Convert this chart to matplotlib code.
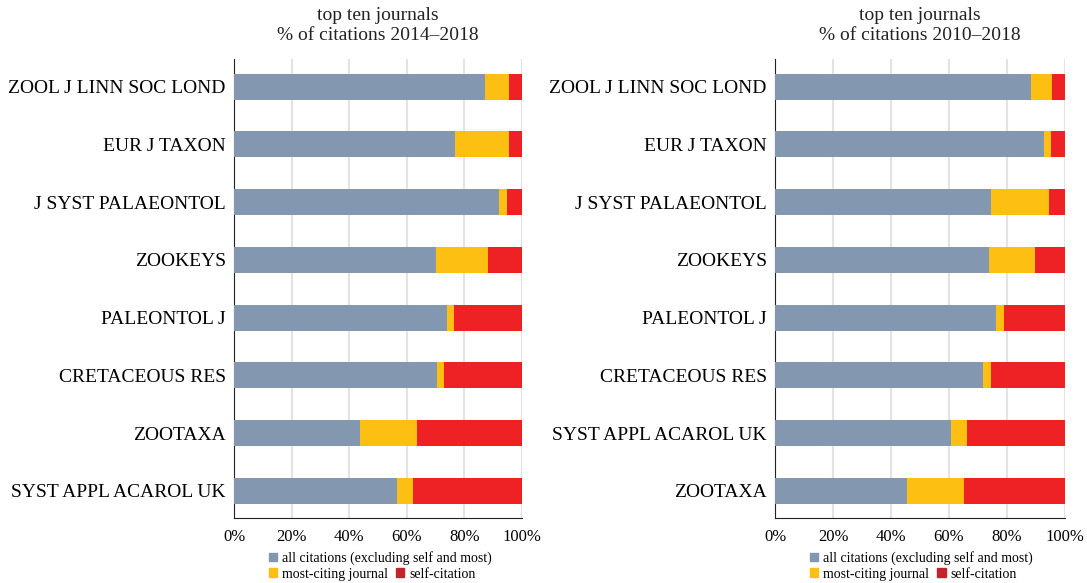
import matplotlib
matplotlib.use('Agg')
from matplotlib import pyplot as plt
from matplotlib.patches import Patch

plt.rcParams['font.family'] = ['Liberation Serif', 'DejaVu Serif']

journals_1418 = ['ZOOL J LINN SOC LOND', 'EUR J TAXON', 'J SYST PALAEONTOL', 'ZOOKEYS',
                 'PALEONTOL J', 'CRETACEOUS RES', 'ZOOTAXA', 'SYST APPL ACAROL UK']
all_1418 = [87.2, 76.7, 92.0, 70.0, 74.0, 70.4, 43.8, 56.5]
most_1418 = [8.2, 18.7, 2.6, 18.3, 2.3, 2.6, 19.6, 5.8]
self_1418 = [4.6, 4.6, 5.4, 11.7, 23.7, 27.0, 36.6, 37.7]

journals_1018 = ['ZOOL J LINN SOC LOND', 'EUR J TAXON', 'J SYST PALAEONTOL', 'ZOOKEYS',
                 'PALEONTOL J', 'CRETACEOUS RES', 'SYST APPL ACAROL UK', 'ZOOTAXA']
all_1018 = [88.2, 92.9, 74.4, 73.8, 76.1, 71.8, 60.7, 45.5]
most_1018 = [7.2, 2.4, 20.1, 16.0, 2.8, 2.6, 5.5, 19.6]
self_1018 = [4.6, 4.7, 5.5, 10.2, 21.1, 25.6, 33.8, 34.9]

titles = ['top ten journals\n% of citations 2014\u20132018',
          'top ten journals\n% of citations 2010\u20132018']

c_all = '#8497b0'
c_most = '#fdbf12'
c_self = '#ee2125'
c_self_leg = '#c4232b'

fig = plt.figure(figsize=(10.87, 5.83), dpi=100)
ax1 = fig.add_axes([0.2153, 0.1115, 0.265, 0.7873])
ax2 = fig.add_axes([0.713, 0.1115, 0.2668, 0.7873])

panels = [(ax1, journals_1418, all_1418, most_1418, self_1418, titles[0]),
          (ax2, journals_1018, all_1018, most_1018, self_1018, titles[1])]

for ax, names, a, m, s, title in panels:
    y = range(len(names))
    left2 = [i + j for i, j in zip(a, m)]
    ax.barh(y, a, height=0.45, color=c_all, zorder=3)
    ax.barh(y, m, left=a, height=0.45, color=c_most, zorder=3)
    ax.barh(y, s, left=left2, height=0.45, color=c_self, zorder=3)
    ax.set_ylim(7.47, -0.48)
    ax.set_xlim(0, 100)
    ax.set_yticks(list(y))
    ax.set_yticklabels(names, fontsize=14)
    ax.set_xticks([0, 20, 40, 60, 80, 100])
    ax.set_xticklabels(['0%', '20%', '40%', '60%', '80%', '100%'], fontsize=12)
    ax.tick_params(length=0)
    ax.tick_params(axis='y', pad=6)
    ax.tick_params(axis='x', pad=8)
    ax.grid(axis='x', color='#e3e3e3', linewidth=1.5, zorder=0)
    ax.spines['top'].set_visible(False)
    ax.spines['right'].set_visible(False)
    ax.spines['left'].set_color('#222222')
    ax.spines['bottom'].set_color('#222222')
    ax.set_title(title, fontsize=14, linespacing=1.2, pad=14, color='#222222')

    h1 = [Patch(color=c_all, label='all citations (excluding self and most)')]
    h2 = [Patch(color=c_most, label='most-citing journal'),
          Patch(color=c_self_leg, label='self-citation')]
    leg1 = ax.legend(handles=h1, loc='upper left', bbox_to_anchor=(0.12, -0.072),
                     frameon=False, fontsize=10, handlelength=0.6, handleheight=0.6,
                     handletextpad=0.35, borderpad=0, borderaxespad=0)
    ax.add_artist(leg1)
    ax.legend(handles=h2, loc='upper left', bbox_to_anchor=(0.12, -0.108), ncol=2,
              frameon=False, fontsize=10, handlelength=0.6, handleheight=0.6,
              handletextpad=0.35, columnspacing=0.6, borderpad=0, borderaxespad=0)

fig.savefig('out.png', dpi=100)
